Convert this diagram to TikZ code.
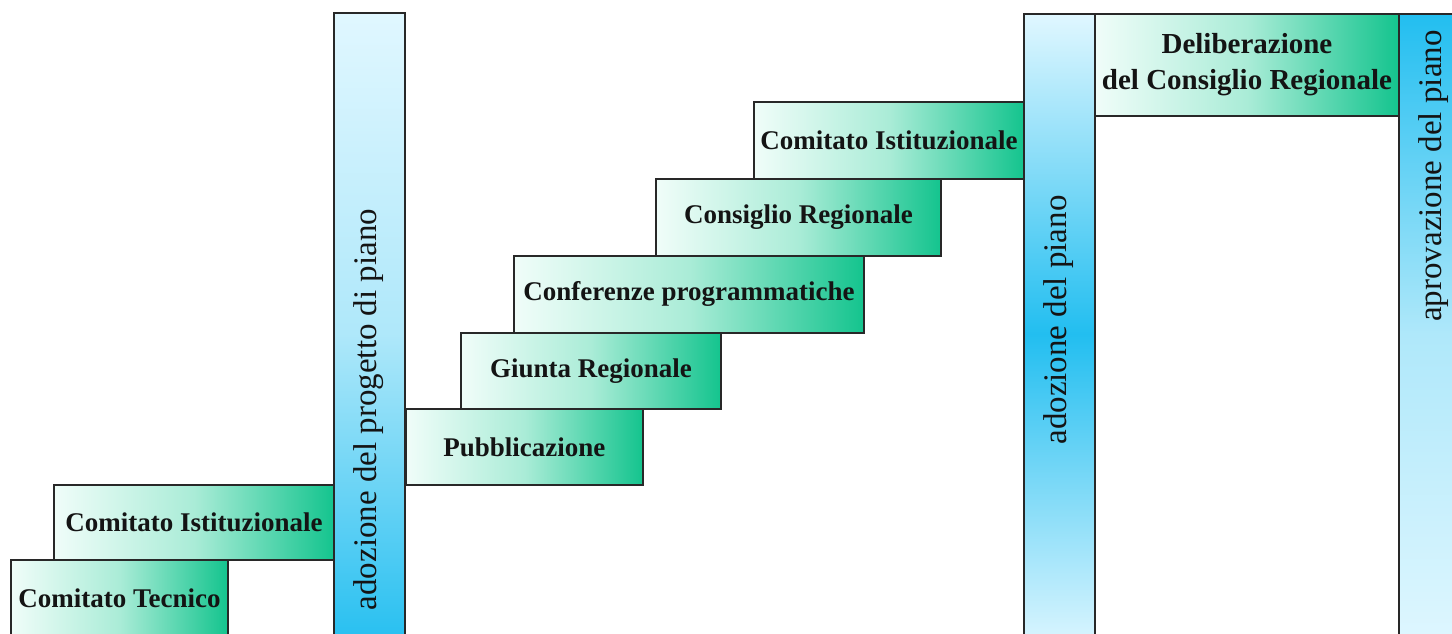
\documentclass[tikz,border=0pt]{standalone}
\usepackage{fontspec}
\setmainfont{Liberation Serif}
\definecolor{mintL}{RGB}{240,253,249}
\definecolor{mintM}{RGB}{170,236,215}
\definecolor{mintD}{RGB}{20,196,142}
\definecolor{cyanL}{RGB}{224,247,255}
\definecolor{cyanM}{RGB}{175,232,250}
\definecolor{cyanD}{RGB}{34,190,240}
\definecolor{bordc}{RGB}{40,40,40}
\definecolor{txtc}{RGB}{20,20,20}
\begin{document}
\begin{tikzpicture}[x=1pt,y=-1pt,
  stepbox/.style={draw=bordc, line width=1.9pt, left color=mintL, right color=mintD, middle color=mintM,
    inner sep=0pt, font=\fontsize{27}{32}\selectfont\bfseries, text=txtc, anchor=north west},
  bar/.style={draw=bordc, line width=1.9pt, inner sep=0pt, anchor=north west,
    minimum width=71pt, minimum height=640pt},
  bartext/.style={rotate=90, font=\fontsize{33}{38}\selectfont, text=txtc, inner sep=0pt}]
\clip (0,0) rectangle (1452,633);
\fill[white] (0,0) rectangle (1452,633);
% steps
\node[stepbox, minimum width=217pt, minimum height=76pt] (ct) at (10,559) {Comitato Tecnico};
\node[stepbox, minimum width=280pt, minimum height=75pt] (ci1) at (53,484) {Comitato Istituzionale};
\node[stepbox, minimum width=237pt, minimum height=76pt] (pub) at (405,408) {Pubblicazione};
\node[stepbox, minimum width=260pt, minimum height=76pt] (giu) at (460,332) {Giunta Regionale};
\node[stepbox, minimum width=350pt, minimum height=77pt] (conf) at (513,255) {Conferenze programmatiche};
\node[stepbox, minimum width=285pt, minimum height=77pt] (cons) at (655,178) {Consiglio Regionale};
\node[stepbox, minimum width=270pt, minimum height=77pt] (ci2) at (753,101) {Comitato Istituzionale};
\node[stepbox, minimum width=304pt, minimum height=102pt, align=center,
  font=\fontsize{29}{36}\selectfont\bfseries] (del) at (1094,13) {Deliberazione\\del Consiglio Regionale};
% bars
\node[bar, top color=cyanL, bottom color=cyanD, middle color=cyanM] (b1) at (333,12) {};
\node[bar, top color=cyanL, bottom color=cyanL, middle color=cyanD] (b2) at (1023,13) {};
\node[bar, top color=cyanD, bottom color=cyanL, middle color=cyanM] (b3) at (1398,13) {};
\node[bartext] (t1) at (369,409.5) {adozione del progetto di piano};
\node[bartext] (t2) at (1058.5,320) {adozione del piano};
\node[bartext] (t3) at (1433.5,176) {aprovazione del piano};
\end{tikzpicture}
\end{document}
